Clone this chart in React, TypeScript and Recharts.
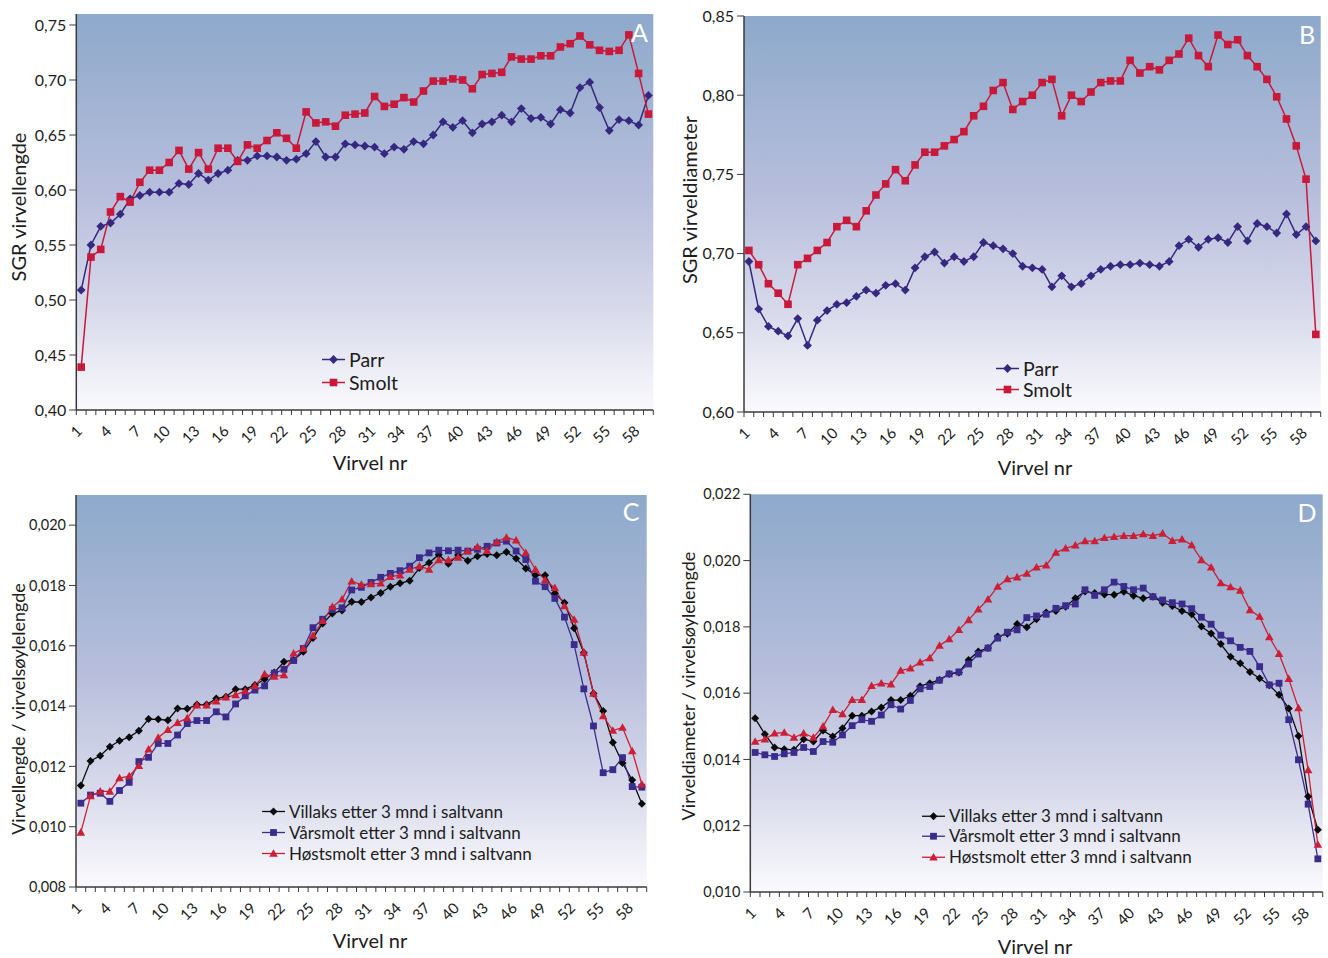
import React from 'react';
import { LineChart, Line, XAxis, YAxis, CartesianGrid, Legend } from 'recharts';

// vertebra numbers (x categories)
const virvelNr = [
  1, 2, 3, 4, 5, 6, 7, 8, 9, 10, 11, 12, 13, 14, 15, 16, 17, 18, 19, 20,
  21, 22, 23, 24, 25, 26, 27, 28, 29, 30, 31, 32, 33, 34, 35, 36, 37, 38, 39, 40,
  41, 42, 43, 44, 45, 46, 47, 48, 49, 50, 51, 52, 53, 54, 55, 56, 57, 58, 59,
];
const xTickLabels = [1, 4, 7, 10, 13, 16, 19, 22, 25, 28, 31, 34, 37, 40, 43, 46, 49, 52, 55, 58];

// A: SGR virvellengde
const parrLengde = [
  0.509, 0.55, 0.567, 0.57, 0.578, 0.592, 0.595, 0.598, 0.598, 0.598,
  0.606, 0.605, 0.615, 0.609, 0.615, 0.618, 0.627, 0.627, 0.631, 0.631,
  0.63, 0.627, 0.628, 0.633, 0.644, 0.63, 0.63, 0.642, 0.641, 0.64,
  0.639, 0.633, 0.639, 0.637, 0.644, 0.642, 0.65, 0.662, 0.657, 0.663,
  0.652, 0.66, 0.662, 0.668, 0.662, 0.674, 0.665, 0.666, 0.66, 0.673,
  0.67, 0.693, 0.698, 0.675, 0.654, 0.664, 0.663, 0.659, 0.686,
];
const smoltLengde = [
  0.439, 0.539, 0.546, 0.58, 0.594, 0.589, 0.607, 0.618, 0.618, 0.625,
  0.636, 0.619, 0.634, 0.619, 0.638, 0.638, 0.626, 0.641, 0.638, 0.645,
  0.652, 0.647, 0.638, 0.671, 0.661, 0.662, 0.658, 0.668, 0.669, 0.67,
  0.685, 0.676, 0.678, 0.684, 0.68, 0.69, 0.699, 0.699, 0.701, 0.7,
  0.692, 0.705, 0.706, 0.707, 0.721, 0.719, 0.719, 0.722, 0.722, 0.73,
  0.733, 0.74, 0.732, 0.727, 0.726, 0.727, 0.741, 0.706, 0.669,
];

// B: SGR virveldiameter
const parrDiameter = [
  0.695, 0.665, 0.654, 0.651, 0.648, 0.659, 0.642, 0.658, 0.664, 0.668,
  0.669, 0.673, 0.677, 0.675, 0.68, 0.681, 0.677, 0.691, 0.698, 0.701,
  0.694, 0.698, 0.695, 0.698, 0.707, 0.705, 0.703, 0.7, 0.692, 0.691,
  0.69, 0.679, 0.686, 0.679, 0.681, 0.686, 0.69, 0.692, 0.693, 0.693,
  0.694, 0.693, 0.692, 0.695, 0.705, 0.709, 0.704, 0.709, 0.71, 0.707,
  0.717, 0.708, 0.719, 0.717, 0.713, 0.725, 0.712, 0.717, 0.708,
];
const smoltDiameter = [
  0.702, 0.693, 0.681, 0.675, 0.668, 0.693, 0.697, 0.702, 0.707, 0.717,
  0.721, 0.717, 0.727, 0.737, 0.744, 0.753, 0.746, 0.756, 0.764, 0.764,
  0.768, 0.772, 0.777, 0.787, 0.793, 0.803, 0.808, 0.791, 0.796, 0.8,
  0.808, 0.81, 0.787, 0.8, 0.796, 0.802, 0.808, 0.809, 0.809, 0.822,
  0.814, 0.818, 0.816, 0.822, 0.826, 0.836, 0.825, 0.818, 0.838, 0.832,
  0.835, 0.825, 0.818, 0.81, 0.799, 0.785, 0.768, 0.747, 0.649,
];

// C: Virvellengde / virvelsøylelengde
const villaksLengde = [
  0.01137, 0.01218, 0.01235, 0.01265, 0.01285, 0.01297, 0.01318, 0.01357, 0.01356, 0.01353,
  0.01392, 0.01391, 0.01405, 0.01405, 0.01425, 0.01431, 0.01456, 0.01456, 0.0147, 0.01489,
  0.01511, 0.01547, 0.01553, 0.0158, 0.01626, 0.01674, 0.01707, 0.01717, 0.01746, 0.01745,
  0.0176, 0.01775, 0.01796, 0.01807, 0.01816, 0.01858, 0.01875, 0.01902, 0.01872, 0.01901,
  0.01882, 0.01897, 0.01904, 0.019, 0.01911, 0.01889, 0.01856, 0.01834, 0.01834, 0.01774,
  0.01743, 0.01658, 0.01577, 0.01442, 0.01384, 0.01279, 0.01211, 0.01155, 0.01076,
];
const varsmoltLengde = [
  0.01078, 0.01105, 0.01111, 0.01084, 0.0112, 0.01147, 0.01216, 0.0123, 0.01276, 0.01276,
  0.01304, 0.01342, 0.01352, 0.01352, 0.01381, 0.01364, 0.01407, 0.01434, 0.01453, 0.01467,
  0.01509, 0.01522, 0.01551, 0.01591, 0.0166, 0.01688, 0.0172, 0.01726, 0.01785, 0.01794,
  0.0181, 0.01827, 0.0184, 0.01849, 0.01864, 0.01892, 0.01908, 0.01917, 0.01915, 0.01917,
  0.01914, 0.0192, 0.0193, 0.01941, 0.01947, 0.01914, 0.01886, 0.01814, 0.01796, 0.01757,
  0.01695, 0.01604, 0.01457, 0.01334, 0.01179, 0.01189, 0.01229, 0.01133, 0.01131,
];
const hostsmoltLengde = [
  0.00981, 0.01102, 0.01117, 0.01117, 0.01161, 0.01168, 0.01202, 0.01257, 0.01296, 0.01321,
  0.01345, 0.0136, 0.01403, 0.01403, 0.01416, 0.01429, 0.01437, 0.0145, 0.01467, 0.01506,
  0.01498, 0.01503, 0.01575, 0.01591, 0.01634, 0.01683, 0.01729, 0.01754, 0.01814, 0.01803,
  0.01805, 0.01807, 0.01829, 0.01834, 0.01853, 0.01864, 0.01853, 0.01884, 0.01884, 0.01893,
  0.01914, 0.01928, 0.01915, 0.01945, 0.01959, 0.0195, 0.01908, 0.01853, 0.01818, 0.01792,
  0.01732, 0.01687, 0.01578, 0.01442, 0.01367, 0.01319, 0.01329, 0.01251, 0.01141,
];

// D: Virveldiameter / virvelsøylelengde
const villaksDiameter = [
  0.01524, 0.01476, 0.01436, 0.01431, 0.01429, 0.01461, 0.01454, 0.01487, 0.01469, 0.01494,
  0.01532, 0.01532, 0.01545, 0.01557, 0.01579, 0.01579, 0.01592, 0.01621, 0.0163, 0.0164,
  0.01658, 0.01662, 0.017, 0.01726, 0.01736, 0.01771, 0.01779, 0.01809, 0.01799, 0.01823,
  0.01843, 0.01848, 0.01861, 0.01886, 0.01907, 0.01902, 0.01898, 0.01897, 0.01906, 0.01894,
  0.01886, 0.01891, 0.01873, 0.01863, 0.01848, 0.01838, 0.01801, 0.0178, 0.01748, 0.0171,
  0.0169, 0.01664, 0.01645, 0.01624, 0.01595, 0.01554, 0.01471, 0.01288, 0.01188,
];
const varsmoltDiameter = [
  0.01421, 0.01414, 0.01409, 0.01417, 0.01421, 0.01436, 0.01424, 0.01454, 0.01452, 0.01474,
  0.01502, 0.0152, 0.01515, 0.01534, 0.01565, 0.01552, 0.01578, 0.01613, 0.0162, 0.01639,
  0.01658, 0.01664, 0.01688, 0.01718, 0.01736, 0.01766, 0.01784, 0.01791, 0.01828, 0.01833,
  0.01838, 0.01856, 0.01864, 0.01869, 0.01912, 0.01895, 0.01912, 0.01935, 0.01922, 0.01912,
  0.01917, 0.01891, 0.01881, 0.01873, 0.01869, 0.01855, 0.01829, 0.01808, 0.01775, 0.01758,
  0.01738, 0.01726, 0.0168, 0.01625, 0.0163, 0.0152, 0.01399, 0.01265, 0.011,
];
const hostsmoltDiameter = [
  0.01454, 0.01461, 0.01479, 0.01481, 0.01466, 0.01479, 0.01466, 0.015, 0.0155, 0.01537,
  0.0158, 0.0158, 0.01622, 0.0163, 0.01627, 0.01668, 0.01675, 0.01693, 0.01706, 0.01744,
  0.01763, 0.01791, 0.01821, 0.01853, 0.01883, 0.01922, 0.01944, 0.0195, 0.01961, 0.0198,
  0.01986, 0.02024, 0.02037, 0.02046, 0.02059, 0.02059, 0.02069, 0.02072, 0.02075, 0.02075,
  0.0208, 0.02075, 0.02082, 0.0206, 0.02064, 0.02047, 0.02002, 0.0198, 0.01932, 0.0192,
  0.0191, 0.01851, 0.01831, 0.01769, 0.01719, 0.01643, 0.01555, 0.01368, 0.01143,
];

const ticksA = [0.4, 0.45, 0.5, 0.55, 0.6, 0.65, 0.7, 0.75];
const ticksB = [0.6, 0.65, 0.7, 0.75, 0.8, 0.85];
const ticksC = [0.008, 0.01, 0.012, 0.014, 0.016, 0.018, 0.02];
const ticksD = [0.01, 0.012, 0.014, 0.016, 0.018, 0.02, 0.022];

const FONT = 'Lato, "Open Sans", sans-serif';
const AXIS = '#3a3a3a';
const TEXT = '#1c1c1c';
const PARR = '#36287f';
const SMOLT = '#c8193a';
const VILLAKS = '#0a0a0a';
const VAR = '#3b2c8c';
const HOST = '#cc1f36';

type Marker = 'diamond' | 'square' | 'triangle';
interface SeriesDef { key: string; name: string; color: string; marker: Marker; values: number[] }

const markerShape = (marker: Marker, color: string, cx: number, cy: number, s: number, key?: any) => {
  if (marker === 'square') {
    return <rect key={key} x={cx - s} y={cy - s} width={2 * s} height={2 * s} fill={color} />;
  }
  if (marker === 'diamond') {
    const d = s + 0.6;
    return <polygon key={key} points={`${cx},${cy - d} ${cx + d},${cy} ${cx},${cy + d} ${cx - d},${cy}`} fill={color} />;
  }
  const t = s + 0.9;
  return <polygon key={key} points={`${cx},${cy - t} ${cx + t},${cy + t * 0.75} ${cx - t},${cy + t * 0.75}`} fill={color} />;
};

const makeDot = (marker: Marker, color: string, size: number) => (props: any) => {
  const { cx, cy, index } = props;
  if (cx == null || cy == null) return <g key={`d${index}`} />;
  return markerShape(marker, color, cx, cy, size, `d${index}`);
};

const xTick = (half: number) => (props: any) => {
  const { x, y, payload } = props;
  const v = payload.value;
  const last = v === virvelNr[virvelNr.length - 1];
  return (
    <g>
      <line x1={x - half} x2={x - half} y1={y} y2={y + 5} stroke={AXIS} strokeWidth={1} />
      {last && <line x1={x + half} x2={x + half} y1={y} y2={y + 5} stroke={AXIS} strokeWidth={1} />}
      {xTickLabels.includes(v) && (
        <text
          x={x + 2}
          y={y + 22}
          textAnchor="end"
          transform={`rotate(-45, ${x + 2}, ${y + 22})`}
          fontSize={15}
          fontFamily={FONT}
          fill={TEXT}
        >
          {v}
        </text>
      )}
    </g>
  );
};

interface PanelCfg {
  letter: string;
  left: number; top: number; width: number; height: number;
  marginTop: number; marginRight: number;
  yAxisWidth: number; xAxisHeight: number;
  domain: [number, number]; ticks: number[]; decimals: number; tickFont: number;
  series: SeriesDef[];
  yLabel: string; yLabelAt: [number, number]; yLabelSize: number;
  xLabelAt: [number, number];
  legendAt: [number, number]; legendRow: number; legendSize: number;
  letterAt: [number, number];
  lineWidth: number; markerSize: number;
}

const Panel = ({ cfg }: { cfg: PanelCfg }) => {
  const plotW = cfg.width - cfg.yAxisWidth - cfg.marginRight;
  const half = plotW / virvelNr.length / 2;
  const rows = virvelNr.map((nr, i) => {
    const r: any = { nr };
    cfg.series.forEach((s) => { r[s.key] = s.values[i]; });
    return r;
  });
  const fmt = (v: number) => v.toFixed(cfg.decimals).replace('.', ',');

  const legendContent = () => (
    <div style={{ fontFamily: FONT, fontSize: cfg.legendSize, color: TEXT }}>
      {cfg.series.map((s) => (
        <div key={s.key} style={{ display: 'flex', alignItems: 'center', height: cfg.legendRow, whiteSpace: 'nowrap' }}>
          <svg width={24} height={cfg.legendRow} style={{ display: 'block' }}>
            <line x1={0} x2={23} y1={cfg.legendRow / 2} y2={cfg.legendRow / 2} stroke={s.color} strokeWidth={cfg.lineWidth} />
            {markerShape(s.marker, s.color, 11.5, cfg.legendRow / 2, cfg.markerSize)}
          </svg>
          <span style={{ marginLeft: 3, lineHeight: `${cfg.legendRow}px` }}>{s.name}</span>
        </div>
      ))}
    </div>
  );

  return (
    <div style={{ position: 'absolute', left: cfg.left, top: cfg.top, width: cfg.width, height: cfg.height }}>
      <LineChart
        width={cfg.width}
        height={cfg.height}
        data={rows}
        margin={{ top: cfg.marginTop, right: cfg.marginRight, bottom: 0, left: 0 }}
      >
        <CartesianGrid horizontal={false} vertical={false} fill="url(#plotGradient)" stroke="none" />
        <XAxis
          dataKey="nr"
          type="number"
          domain={[0.5, 59.5]}
          ticks={virvelNr}
          interval={0}
          height={cfg.xAxisHeight}
          tickSize={0}
          tickMargin={0}
          tickLine={false}
          axisLine={{ stroke: AXIS, strokeWidth: 1.5 }}
          tick={xTick(half)}
          label={{
            content: () => (
              <text x={cfg.xLabelAt[0]} y={cfg.xLabelAt[1]} textAnchor="middle" dominantBaseline="central"
                fontSize={20} fontFamily={FONT} fill={TEXT}>Virvel nr</text>
            ),
          }}
        />
        <YAxis
          type="number"
          domain={cfg.domain}
          ticks={cfg.ticks}
          interval={0}
          width={cfg.yAxisWidth}
          tickSize={7}
          tickMargin={3}
          tickFormatter={fmt}
          axisLine={{ stroke: AXIS, strokeWidth: 1.5 }}
          tickLine={{ stroke: AXIS, strokeWidth: 1 }}
          tick={{ fill: TEXT, fontSize: cfg.tickFont, fontFamily: FONT }}
          label={{
            content: () => (
              <text x={cfg.yLabelAt[0]} y={cfg.yLabelAt[1]} textAnchor="middle" dominantBaseline="central"
                transform={`rotate(-90, ${cfg.yLabelAt[0]}, ${cfg.yLabelAt[1]})`}
                fontSize={cfg.yLabelSize} fontFamily={FONT} fill={TEXT}>{cfg.yLabel}</text>
            ),
          }}
        />
        {cfg.series.map((s) => (
          <Line
            key={s.key}
            type="linear"
            dataKey={s.key}
            name={s.name}
            stroke={s.color}
            strokeWidth={cfg.lineWidth}
            dot={makeDot(s.marker, s.color, cfg.markerSize)}
            activeDot={false}
            isAnimationActive={false}
          />
        ))}
        <Legend
          layout="vertical"
          align="center"
          verticalAlign="middle"
          content={legendContent}
          wrapperStyle={{ left: cfg.legendAt[0], top: cfg.legendAt[1], width: 'auto', height: 'auto' }}
        />
      </LineChart>
      <div
        style={{
          position: 'absolute', left: cfg.letterAt[0] - 20, top: cfg.letterAt[1] - 15, width: 40, height: 30,
          lineHeight: '30px', textAlign: 'center', color: '#ffffff', fontFamily: FONT, fontSize: 25,
        }}
      >
        {cfg.letter}
      </div>
    </div>
  );
};

const panels: PanelCfg[] = [
  {
    letter: 'A', left: 0, top: 0, width: 660, height: 480, marginTop: 14, marginRight: 6.7,
    yAxisWidth: 76.3, xAxisHeight: 70, domain: [0.4, 0.76], ticks: ticksA, decimals: 2, tickFont: 16,
    series: [
      { key: 'parr', name: 'Parr', color: PARR, marker: 'diamond', values: parrLengde },
      { key: 'smolt', name: 'Smolt', color: SMOLT, marker: 'square', values: smoltLengde },
    ],
    yLabel: 'SGR virvellengde', yLabelAt: [18, 207], yLabelSize: 20, xLabelAt: [370, 462],
    legendAt: [322, 347.5], legendRow: 23, legendSize: 19.5, letterAt: [639.5, 31.5],
    lineWidth: 1.5, markerSize: 3.8,
  },
  {
    letter: 'B', left: 668, top: 0, width: 660, height: 480, marginTop: 16, marginRight: 7.3,
    yAxisWidth: 76, xAxisHeight: 68, domain: [0.6, 0.85], ticks: ticksB, decimals: 2, tickFont: 16,
    series: [
      { key: 'parr', name: 'Parr', color: PARR, marker: 'diamond', values: parrDiameter },
      { key: 'smolt', name: 'Smolt', color: SMOLT, marker: 'square', values: smoltDiameter },
    ],
    yLabel: 'SGR virveldiameter', yLabelAt: [21, 200], yLabelSize: 20, xLabelAt: [367, 467],
    legendAt: [328, 357.5], legendRow: 21, legendSize: 19.5, letterAt: [639, 33.5],
    lineWidth: 1.5, markerSize: 3.8,
  },
  {
    letter: 'C', left: 0, top: 480, width: 660, height: 478, marginTop: 15, marginRight: 13.3,
    yAxisWidth: 76, xAxisHeight: 71, domain: [0.008, 0.021], ticks: ticksC, decimals: 3, tickFont: 14.5,
    series: [
      { key: 'villaks', name: 'Villaks etter 3 mnd i saltvann', color: VILLAKS, marker: 'diamond', values: villaksLengde },
      { key: 'varsmolt', name: 'Vårsmolt etter 3 mnd i saltvann', color: VAR, marker: 'square', values: varsmoltLengde },
      { key: 'hostsmolt', name: 'Høstsmolt etter 3 mnd i saltvann', color: HOST, marker: 'triangle', values: hostsmoltLengde },
    ],
    yLabel: 'Virvellengde / virvelsøylelengde', yLabelAt: [18, 229], yLabelSize: 18, xLabelAt: [370, 460],
    legendAt: [262, 320.5], legendRow: 21, legendSize: 17, letterAt: [631, 31],
    lineWidth: 1.3, markerSize: 3.4,
  },
  {
    letter: 'D', left: 668, top: 480, width: 660, height: 478, marginTop: 14.3, marginRight: 5.3,
    yAxisWidth: 82.3, xAxisHeight: 66, domain: [0.01, 0.022], ticks: ticksD, decimals: 3, tickFont: 14.5,
    series: [
      { key: 'villaks', name: 'Villaks etter 3 mnd i saltvann', color: VILLAKS, marker: 'diamond', values: villaksDiameter },
      { key: 'varsmolt', name: 'Vårsmolt etter 3 mnd i saltvann', color: VAR, marker: 'square', values: varsmoltDiameter },
      { key: 'hostsmolt', name: 'Høstsmolt etter 3 mnd i saltvann', color: HOST, marker: 'triangle', values: hostsmoltDiameter },
    ],
    yLabel: 'Virveldiameter / virvelsøylelengde', yLabelAt: [20, 206], yLabelSize: 18, xLabelAt: [367, 466],
    legendAt: [254, 325.7], legendRow: 20.5, legendSize: 17, letterAt: [639, 32],
    lineWidth: 1.3, markerSize: 3.4,
  },
];

export default function App() {
  return (
    <div style={{ position: 'absolute', left: 0, top: 0, width: 1328, height: 958, background: '#ffffff', fontFamily: FONT }}>
      <svg width={0} height={0} style={{ position: 'absolute' }}>
        <defs>
          <linearGradient id="plotGradient" x1="0" y1="0" x2="0" y2="1">
            <stop offset="0%" stopColor="#8da9cb" />
            <stop offset="45%" stopColor="#b7bedc" />
            <stop offset="75%" stopColor="#d8daeb" />
            <stop offset="100%" stopColor="#fafafd" />
          </linearGradient>
        </defs>
      </svg>
      {panels.map((p) => (
        <Panel key={p.letter} cfg={p} />
      ))}
    </div>
  );
}
